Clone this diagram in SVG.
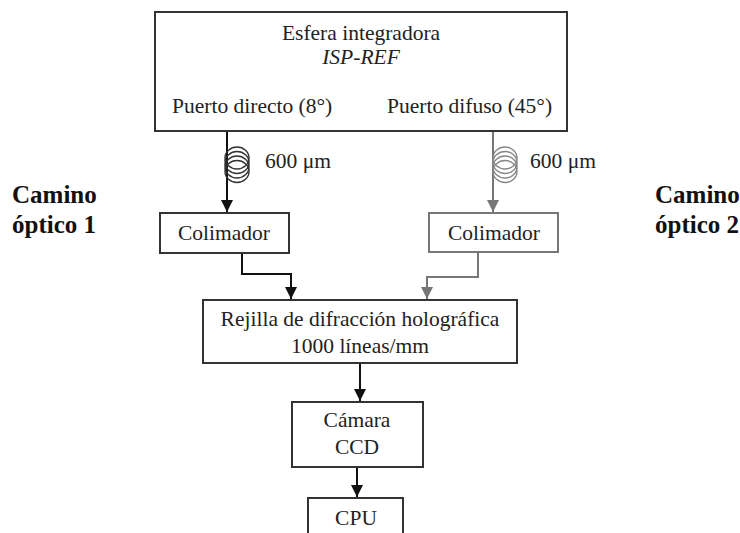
<svg xmlns="http://www.w3.org/2000/svg" width="740" height="533" viewBox="0 0 740 533">
<style>
text{font-family:"Liberation Serif","Times New Roman",serif;font-size:21.5px;fill:#222}
.c{text-anchor:middle}
.b{font-weight:bold;font-size:25px;fill:#111}
.box{fill:#fff;stroke:#333;stroke-width:2}
.gbox{fill:#fff;stroke:#777;stroke-width:2}
.ln{fill:none;stroke:#111;stroke-width:2}
.gln{fill:none;stroke:#777;stroke-width:2}
.coil{fill:none;stroke:#333;stroke-width:1.4}
.gcoil{fill:none;stroke:#888;stroke-width:1.4}
</style>
<defs>
<marker id="ak" viewBox="0 0 10 10" refX="10" refY="5" markerWidth="6" markerHeight="6" markerUnits="strokeWidth" orient="auto"><path d="M0,0L10,5L0,10Z" fill="#111"/></marker>
<marker id="ag" viewBox="0 0 10 10" refX="10" refY="5" markerWidth="6" markerHeight="6" markerUnits="strokeWidth" orient="auto"><path d="M0,0L10,5L0,10Z" fill="#777"/></marker>
</defs>
<g id="connectors">
<path class="ln" d="M227,131V212" marker-end="url(#ak)"/>
<path class="gln" d="M493,131V212" marker-end="url(#ag)"/>
<path class="ln" d="M242,253V274H291V299" marker-end="url(#ak)"/>
<path class="gln" d="M478,253V277H427V299" marker-end="url(#ag)"/>
<path class="ln" d="M360,363V401" marker-end="url(#ak)"/>
<path class="ln" d="M357,467V497" marker-end="url(#ak)"/>
<g id="coil1" class="coil">
<ellipse cx="237" cy="158" rx="12" ry="11"/><ellipse cx="237" cy="162.5" rx="12" ry="11"/><ellipse cx="237" cy="167" rx="12" ry="11"/><ellipse cx="237" cy="171.5" rx="12" ry="11"/>
</g>
<g id="coil2" class="gcoil">
<ellipse cx="505" cy="158" rx="12" ry="11"/><ellipse cx="505" cy="162.5" rx="12" ry="11"/><ellipse cx="505" cy="167" rx="12" ry="11"/><ellipse cx="505" cy="171.5" rx="12" ry="11"/>
</g>
<text x="265" y="168">600 μm</text>
<text x="530" y="168">600 μm</text>
</g>
<g id="esfera">
<rect class="box" x="155" y="12" width="412" height="119"/>
<text class="c" x="361" y="40">Esfera integradora</text>
<text class="c" x="361" y="64" font-style="italic">ISP-REF</text>
<text x="172" y="113">Puerto directo (8°)</text>
<text x="387" y="113">Puerto difuso (45°)</text>
</g>
<g id="camino1">
<text class="b" x="12" y="203">Camino</text>
<text class="b" x="12" y="233">óptico 1</text>
</g>
<g id="camino2">
<text class="b" x="655" y="203">Camino</text>
<text class="b" x="655" y="233">óptico 2</text>
</g>
<g id="colimador1">
<rect class="box" x="160" y="213" width="129" height="40"/>
<text class="c" x="224" y="240">Colimador</text>
</g>
<g id="colimador2">
<rect class="gbox" x="429" y="213" width="129" height="39"/>
<text class="c" x="494" y="240">Colimador</text>
</g>
<g id="rejilla">
<rect class="box" x="203" y="300" width="314" height="63"/>
<text class="c" x="360" y="326">Rejilla de difracción holográfica</text>
<text class="c" x="360" y="353">1000 líneas/mm</text>
</g>
<g id="camara">
<rect class="box" x="292" y="402" width="131" height="65"/>
<text class="c" x="357" y="427">Cámara</text>
<text class="c" x="357" y="454">CCD</text>
</g>
<g id="cpu">
<rect class="box" x="308" y="498" width="95" height="45"/>
<text class="c" x="356" y="525">CPU</text>
</g>
</svg>
